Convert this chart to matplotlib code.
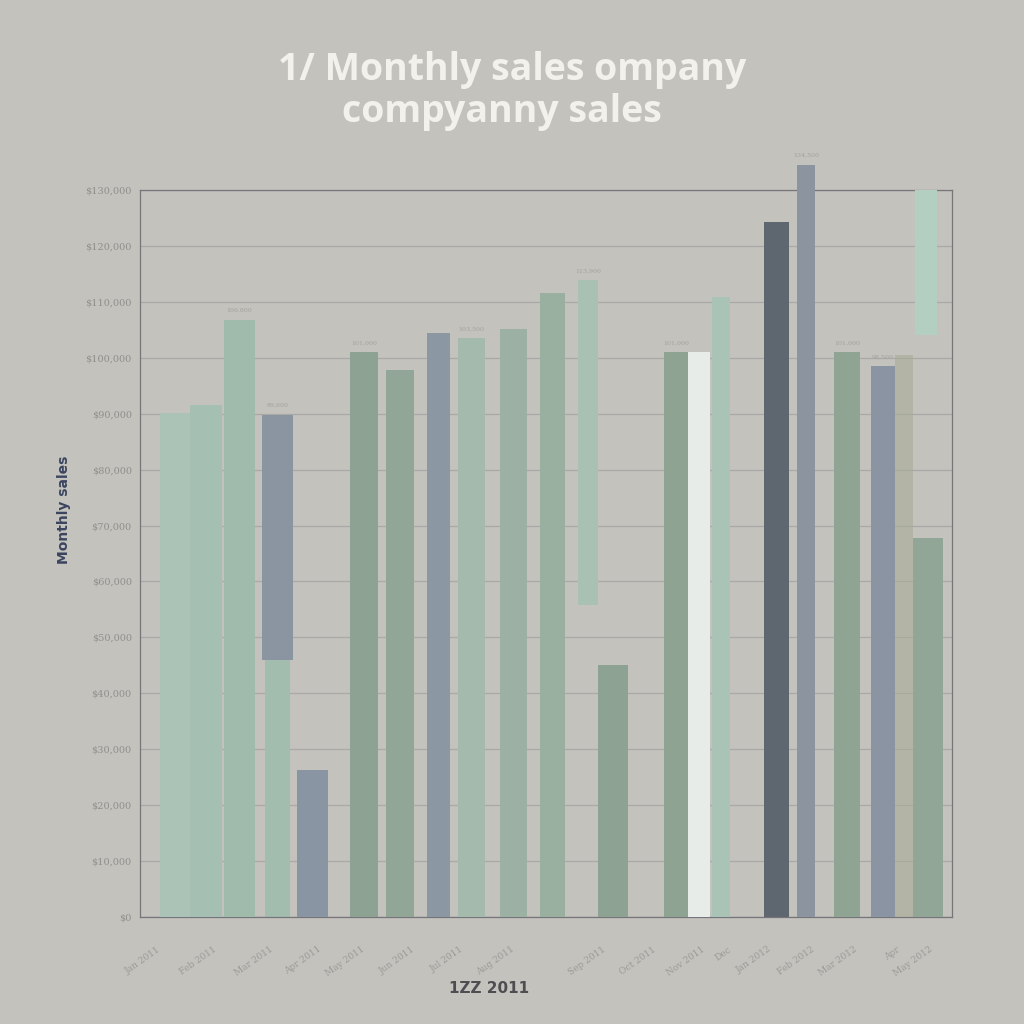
import matplotlib.pyplot as plt
import numpy as np

# bar values (sales), bottom of floating bars
sales = [90100, 91500, 106800, 89800, 26300, 101000, 97800, 104400, 103500,
         105100, 111600, 113900, 45100, 101000, 101000, 110900, 124300,
         134500, 101000, 98500, 100500, 67800, 130000]
bottoms = [0, 0, 0, 46000, 0, 0, 0, 0, 0, 0, 0, 55800, 0, 0, 0, 0, 0, 0,
           0, 0, 0, 0, 104000]

tick_labels = ['Jan 2011', 'Feb 2011', 'Mar 2011', 'Apr 2011', 'May 2011',
               'Jun 2011', 'Jul 2011', 'Aug 2011', 'Sep 2011', 'Oct 2011',
               'Nov 2011', 'Dec', 'Jan 2012', 'Feb 2012', 'Mar 2012', 'Apr',
               'May 2012']
y_ticks = np.arange(0, 130001, 10000)

# layout of the bars (axis units)
centers = [1.17, 2.2, 3.32, 4.58, 5.75, 7.47, 8.67, 9.95, 11.05, 12.45, 13.75,
           14.93, 15.77, 17.87, 18.63, 19.37, 21.22, 22.2, 23.57, 24.77,
           25.47, 26.27, 26.2]
widths = [1.0, 1.07, 1.03, 1.03, 1.03, 0.93, 0.93, 0.77, 0.9, 0.9, 0.83,
          0.67, 1.0, 0.8, 0.73, 0.6, 0.83, 0.6, 0.87, 0.8, 0.6, 1.0, 0.75]
colors = ['#abc3b7', '#a5bfb2', '#a0baab', '#8b95a2', '#8a95a3', '#8da292',
          '#91a696', '#8c97a4', '#a3baac', '#9cb1a3', '#99af9f', '#a8c1b3',
          '#8da293', '#8fa393', '#e8ece8', '#aac3b7', '#5e6670', '#8c959f',
          '#8fa493', '#8a94a3', '#a6aa92', '#92a697', '#b3cfc2']
tick_pos = [0.73, 2.6, 4.5, 6.1, 7.53, 9.23, 10.83, 12.53, 15.57, 17.27,
            18.87, 19.77, 21.1, 22.53, 23.97, 25.4, 26.47]

bg = '#c4c2bd'
fig = plt.figure(figsize=(10.24, 10.24), dpi=100, facecolor=bg)
ax = fig.add_axes([0.1367, 0.1045, 0.793, 0.71], facecolor=bg)

ax.set_xlim(0, 27.07)
ax.set_ylim(0, 130000)
ax.set_yticks(y_ticks)
ax.yaxis.grid(True, color='#a9a9a6', linewidth=0.9)
ax.set_axisbelow(True)

# lower part of the 4th bar is light green
ax.bar(centers[3], bottoms[3], width=widths[3] * 0.8, color='#a2bcae',
       align='center', zorder=2)
for i, (c, v, b, w, col) in enumerate(zip(centers, sales, bottoms, widths, colors)):
    alpha = 0.55 if i == 20 else 1.0
    ax.bar(c, v - b, bottom=b, width=w, color=col, alpha=alpha,
           zorder=3, clip_on=(v <= 130000 and i != 22))
    # faint value labels above the bars
    if i in (2, 3, 5, 8, 11, 13, 17, 18, 19):
        ax.text(c, v + 1200, '{:,}'.format(v), ha='center', va='bottom',
                fontsize=4.5, color='#a2a29e', family='DejaVu Serif', zorder=4)

for s in ax.spines.values():
    s.set_color('#76767a')
    s.set_linewidth(0.9)

ax.set_yticklabels(['${:,}'.format(v) for v in y_ticks], family='DejaVu Serif',
                   fontsize=7, color='#8f8f8c')
ax.tick_params(length=0, pad=6)
ax.set_xticks(tick_pos)
ax.set_xticklabels(tick_labels, rotation=35, ha='right', fontsize=6.5,
                   color='#9a9a97', family='DejaVu Serif')
ax.tick_params(axis='x', pad=20)

ax.set_xlabel('1ZZ 2011', fontsize=11, color='#4e4e52', labelpad=2,
              x=0.43, weight='bold')
ax.set_ylabel('Monthly sales', fontsize=10, color='#3b4560', weight='bold',
              labelpad=8)
ax.yaxis.set_label_coords(-0.085, 0.56)

fig.text(0.5, 0.932, '1/ Monthly sales ompany', ha='center', va='center',
         fontsize=27, color='#f2f1ec', family='Open Sans', weight='bold')
fig.text(0.49, 0.891, 'compyanny sales', ha='center', va='center',
         fontsize=27, color='#f2f1ec', family='Open Sans', weight='bold')

fig.savefig('out.png', dpi=100, facecolor=bg)
